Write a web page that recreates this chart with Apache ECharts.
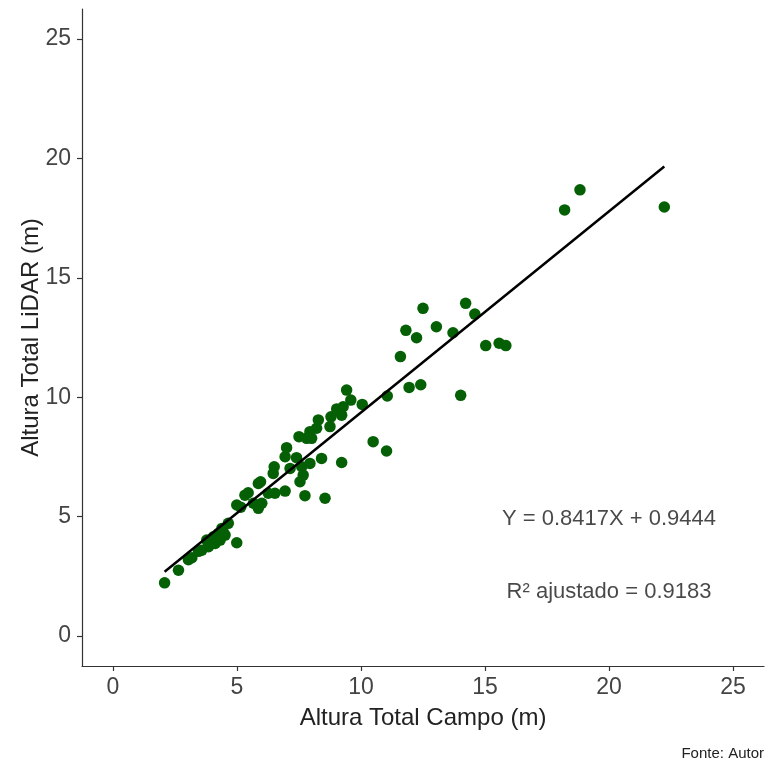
<!DOCTYPE html>
<html>
<head>
<meta charset="utf-8">
<script src="https://cdn.jsdelivr.net/npm/echarts@6/dist/echarts.min.js"></script>
<style>
  html, body { margin: 0; padding: 0; background: #fff; }
  #chart { width: 768px; height: 765px; }
</style>
</head>
<body>
<div id="chart"></div>
<script>
// Field-measured total height (m) per tree
const alturaCampo = [
  2.08, 2.64, 3.04, 3.18, 3.45, 3.58, 3.78, 3.85, 4.05, 4.12,
  4.25, 4.32, 4.39, 4.52, 4.65, 4.99, 3.95, 4.45,
  4.99, 5.15, 5.32, 5.45, 5.66, 5.86, 5.86, 6.00, 5.95, 6.26,
  6.46, 6.50, 6.53, 6.94, 6.94, 7.00, 7.14, 7.40, 7.50, 7.54,
  7.61, 7.67, 7.74, 7.81, 7.94, 7.94, 8.01, 8.21, 8.28, 8.41,
  8.55, 8.75, 8.79, 9.02, 9.22, 9.22, 9.28, 9.42, 9.59, 10.05,
  10.49, 11.03, 11.06, 11.59, 11.81, 11.94, 12.24, 12.41, 12.50, 13.04,
  13.71, 14.02, 14.22, 14.59, 15.03, 15.57, 15.84, 18.21, 18.83, 22.23
];
// LiDAR-derived total height (m) for the same trees
const alturaLidar = [
  2.23, 2.76, 3.20, 3.28, 3.55, 3.60, 4.02, 3.74, 4.16, 3.88,
  4.30, 4.02, 4.51, 4.23, 4.72, 3.91, 3.95, 4.35,
  5.49, 5.40, 5.90, 6.00, 5.56, 5.35, 6.39, 5.56, 6.46, 5.98,
  6.81, 7.09, 5.98, 6.07, 7.51, 7.89, 7.02, 7.47, 8.35, 6.46,
  7.09, 6.74, 5.88, 8.28, 7.23, 8.56, 8.28, 8.70, 9.05, 7.44,
  5.77, 8.77, 9.18, 9.51, 9.25, 7.27, 9.60, 10.30, 9.88, 9.70,
  8.14, 7.75, 10.05, 11.70, 12.80, 10.41, 12.49, 10.52, 13.72, 12.95,
  12.70, 10.08, 13.93, 13.48, 12.16, 12.26, 12.16, 17.84, 18.68, 17.96
];
// Fitted linear model and its adjusted R²
const slope = 0.8417;
const intercept = 0.9444;
const r2Ajustado = 0.9183;
const ticks = [0, 5, 10, 15, 20, 25];

const pontos = alturaCampo.map((x, i) => [x, alturaLidar[i]]);
const xMin = Math.min(...alturaCampo);
const xMax = Math.max(...alturaCampo);
const reta = [xMin, xMax].map(x => [x, slope * x + intercept]);

const fonte = 'Liberation Sans, Arial, sans-serif';
const axisCommon = {
  type: 'value',
  min: -1.25,
  max: 26.25,
  splitLine: { show: false },
  axisLine: { show: true, onZero: false, lineStyle: { color: '#333', width: 1.2 } },
  axisTick: { show: true, length: 5, customValues: ticks, lineStyle: { color: '#333', width: 1.2 } },
  axisLabel: { customValues: ticks, color: '#444', fontSize: 23, fontFamily: fonte },
  nameLocation: 'middle',
  nameMoveOverlap: false,
  nameTextStyle: { color: '#222', fontSize: 24, fontFamily: fonte }
};

const chart = echarts.init(document.getElementById('chart'));
chart.setOption({
  animation: false,
  backgroundColor: '#fff',
  grid: { left: 82, right: 4, top: 9, bottom: 99, containLabel: false },
  xAxis: Object.assign({}, axisCommon, {
    name: 'Altura Total Campo (m)', nameGap: 40,
    axisLabel: Object.assign({}, axisCommon.axisLabel, { margin: 10 })
  }),
  yAxis: Object.assign({}, axisCommon, {
    name: 'Altura Total LiDAR (m)', nameGap: 39,
    axisLabel: Object.assign({}, axisCommon.axisLabel, { margin: 11 })
  }),
  graphic: [{
    type: 'text', right: 4, bottom: 4,
    style: { text: 'Fonte: Autor', fill: '#222', fontSize: 15, fontFamily: fonte }
  }],
  series: [
    {
      type: 'scatter',
      data: pontos,
      symbolSize: 11.5,
      itemStyle: { color: '#056005', opacity: 1 },
      z: 2
    },
    {
      type: 'line',
      data: reta,
      showSymbol: false,
      lineStyle: { color: '#000', width: 2.5 },
      z: 3
    },
    {
      type: 'scatter',
      symbolSize: 0,
      data: [
        { value: [20, 4.9], label: { formatter: 'Y = ' + slope + 'X + ' + intercept } },
        { value: [20, 1.85], label: { formatter: 'R² ajustado = ' + r2Ajustado } }
      ],
      label: { show: true, position: 'inside', color: '#1a1a1a', fontSize: 22, fontFamily: fonte },
      silent: true,
      z: 4
    }
  ]
});
</script>
</body>
</html>
